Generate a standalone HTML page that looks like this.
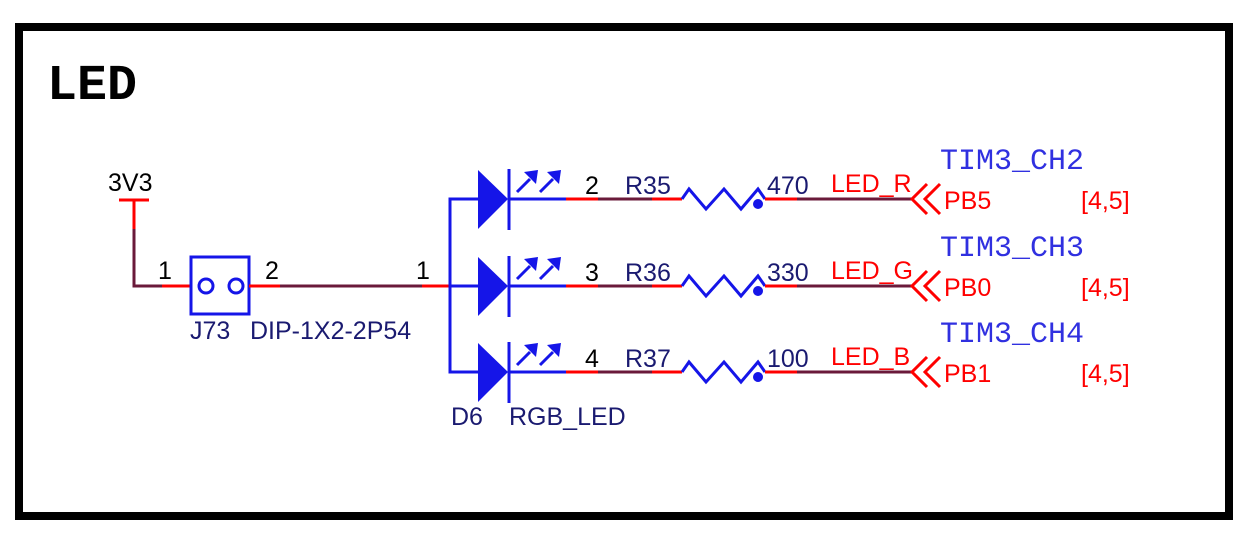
<!DOCTYPE html>
<html><head><meta charset="utf-8"><style>
html,body{margin:0;padding:0;background:#fff;}
svg{display:block;}
.a{font-family:"Liberation Sans",Arial,sans-serif;font-size:25px;}
.m{font-family:"Liberation Mono",monospace;font-size:30px;fill:#3030e0;}
</style></head><body>
<svg width="1252" height="538" viewBox="0 0 1252 538" xmlns="http://www.w3.org/2000/svg">
<rect x="19" y="27" width="1210" height="489" fill="none" stroke="#000" stroke-width="8"/>
<text x="47" y="99" font-family="Liberation Mono,monospace" font-weight="bold" font-size="50" fill="#000">LED</text>

<text x="108" y="191" class="a" fill="#000">3V3</text>
<line x1="119" y1="200" x2="149" y2="200" stroke="#f00" stroke-width="3"/>
<line x1="134" y1="200" x2="134" y2="229" stroke="#f00" stroke-width="3"/>
<polyline points="134,229 134,286 162,286" fill="none" stroke="#6a1a3a" stroke-width="3"/>
<line x1="162" y1="286" x2="192" y2="286" stroke="#f00" stroke-width="3"/>
<text x="158" y="279" class="a" fill="#000">1</text>
<rect x="191" y="257" width="58" height="57" fill="none" stroke="#1515e8" stroke-width="3"/>
<circle cx="206" cy="286" r="7" fill="none" stroke="#1515e8" stroke-width="3"/>
<circle cx="236" cy="286" r="7" fill="none" stroke="#1515e8" stroke-width="3"/>
<line x1="249" y1="286" x2="280" y2="286" stroke="#f00" stroke-width="3"/>
<line x1="280" y1="286" x2="422" y2="286" stroke="#6a1a3a" stroke-width="3"/>
<line x1="422" y1="286" x2="450" y2="286" stroke="#f00" stroke-width="3"/>
<text x="265" y="279" class="a" fill="#000">2</text>
<text x="416" y="279" class="a" fill="#000">1</text>
<text x="190" y="339" class="a" fill="#1a1a70">J73</text>
<text x="250" y="339" class="a" fill="#1a1a70">DIP-1X2-2P54</text>
<polyline points="478,199 450,199 450,372 478,372" fill="none" stroke="#1515e8" stroke-width="3"/>
<line x1="450" y1="286" x2="478" y2="286" stroke="#1515e8" stroke-width="3"/>

<g id="row">
<polygon points="478,170 508,199 478,229" fill="#1515e8"/>
<line x1="509" y1="169" x2="509" y2="230" stroke="#1515e8" stroke-width="3"/>
<line x1="509" y1="199" x2="566" y2="199" stroke="#1515e8" stroke-width="3"/>
<line x1="517" y1="192" x2="530" y2="179" stroke="#1515e8" stroke-width="3"/>
<polygon points="538,170 524,172 536,184" fill="#1515e8"/>
<line x1="540" y1="192" x2="553" y2="179" stroke="#1515e8" stroke-width="3"/>
<polygon points="561,170 547,172 559,184" fill="#1515e8"/>
<line x1="566" y1="199" x2="598" y2="199" stroke="#f00" stroke-width="3"/>
<line x1="598" y1="199" x2="652" y2="199" stroke="#6a1a3a" stroke-width="3"/>
<line x1="652" y1="199" x2="682" y2="199" stroke="#f00" stroke-width="3"/>
<polyline points="682,199 689,189 706,209 724,189 741,209 758,189 765,199" fill="none" stroke="#1515e8" stroke-width="3"/>
<circle cx="758" cy="204" r="5" fill="#1515e8"/>
<line x1="765" y1="199" x2="797" y2="199" stroke="#f00" stroke-width="3"/>
<line x1="797" y1="199" x2="912" y2="199" stroke="#6a1a3a" stroke-width="3"/>
<polyline points="927,184 912,199 927,214" fill="none" stroke="#f00" stroke-width="3"/>
<polyline points="940,184 925,199 940,214" fill="none" stroke="#f00" stroke-width="3"/>
</g>
<use href="#row" y="87"/>
<use href="#row" y="173"/>

<g class="a">
<text x="585" y="194" fill="#000">2</text>
<text x="625" y="194" fill="#1a1a70">R35</text>
<text x="767" y="194" fill="#1a1a70">470</text>
<text x="831" y="192" fill="#f00">LED_R</text>
<text x="944" y="209" fill="#f00">PB5</text>
<text x="1081" y="209" fill="#f00">[4,5]</text>

<text x="585" y="281" fill="#000">3</text>
<text x="625" y="281" fill="#1a1a70">R36</text>
<text x="767" y="281" fill="#1a1a70">330</text>
<text x="831" y="279" fill="#f00">LED_G</text>
<text x="944" y="296" fill="#f00">PB0</text>
<text x="1081" y="296" fill="#f00">[4,5]</text>

<text x="585" y="367" fill="#000">4</text>
<text x="625" y="367" fill="#1a1a70">R37</text>
<text x="767" y="367" fill="#1a1a70">100</text>
<text x="831" y="365" fill="#f00">LED_B</text>
<text x="944" y="382" fill="#f00">PB1</text>
<text x="1081" y="382" fill="#f00">[4,5]</text>

<text x="451" y="425" fill="#1a1a70">D6</text>
<text x="509" y="425" fill="#1a1a70">RGB_LED</text>
</g>
<text x="940" y="169" class="m">TIM3_CH2</text>
<text x="940" y="256" class="m">TIM3_CH3</text>
<text x="940" y="342" class="m">TIM3_CH4</text>
</svg>
</body></html>
